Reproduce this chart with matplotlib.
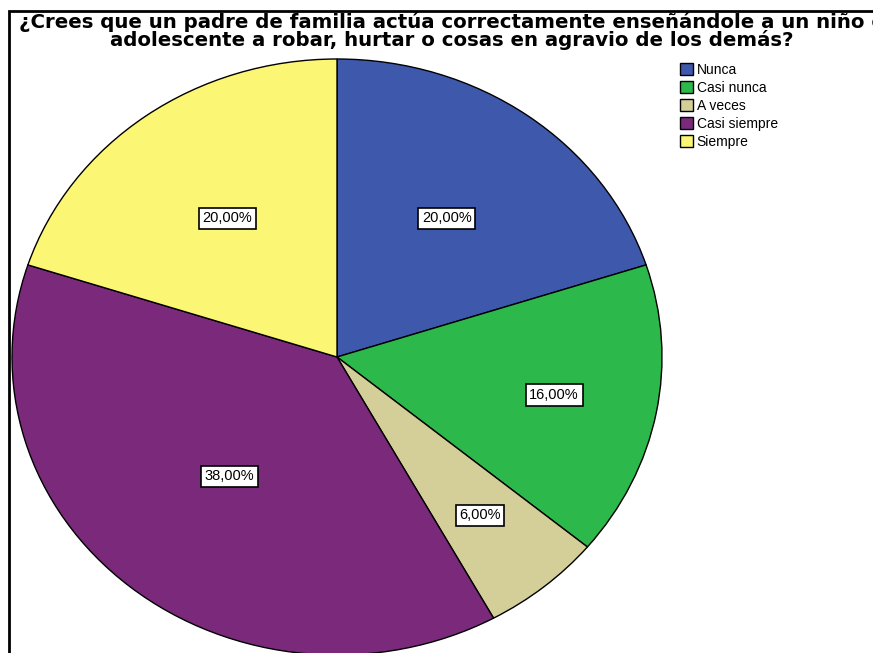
import numpy as np
import matplotlib
matplotlib.use("Agg")
import matplotlib.pyplot as plt
from matplotlib.patches import Rectangle

plt.rcParams['font.family'] = ['Liberation Sans', 'DejaVu Sans']

categories = ['Nunca', 'Casi nunca', 'A veces', 'Casi siempre', 'Siempre']
percentages = [20.0, 16.0, 6.0, 38.0, 20.0]
colors = ['#3E58AC', '#2DB84B', '#D4CE98', '#7B2A7B', '#FBF674']
title_lines = ['¿Crees que un padre de familia actúa correctamente enseñándole a un niño o',
               'adolescente a robar, hurtar o cosas en agravio de los demás?']

# how far out each percentage box sits (fraction of radius)
label_r = [0.575, 0.68, 0.69, 0.52, 0.575]

W, H = 873, 653
fig = plt.figure(figsize=(W / 100, H / 100), dpi=100)
fig.patch.set_facecolor('white')

# outer frame (runs off the right and bottom edges)
fig.patches.append(Rectangle((9 / W, -0.05), 1.2, (H - 11) / H + 0.05,
                             transform=fig.transFigure, fill=False,
                             ec='black', lw=2, clip_on=False))

# title, two lines set on their baselines (first line runs off the edge, as in the original)
for line, base in zip(title_lines, [28, 46]):
    fig.text(452 / W, 1 - base / H, line, ha='center', va='baseline',
             fontsize=14.2, fontweight='bold', family='DejaVu Sans')

# pie is slightly squashed vertically, like the original
cx, cy, a, b = 337, 357, 325, 298
ax = fig.add_axes([(cx - a) / W, (H - cy - b) / H, 2 * a / W, 2 * b / H])
wedges, _ = ax.pie(percentages, colors=colors, startangle=90, counterclock=False,
                   wedgeprops=dict(edgecolor='black', linewidth=1))
ax.set_aspect('auto')
ax.set_xlim(-1, 1)
ax.set_ylim(-1, 1)
ax.axis('off')

for w, p, r in zip(wedges, percentages, label_r):
    th = np.deg2rad((w.theta1 + w.theta2) / 2)
    ax.text(r * np.cos(th), r * np.sin(th), f'{p:.2f}%'.replace('.', ','),
            ha='center', va='center', fontsize=10.5,
            bbox=dict(boxstyle='square,pad=0.25', fc='white', ec='black', lw=1.2))

fig.legend(wedges, categories, loc='upper left', bbox_to_anchor=(680 / W, 1 - 63 / H),
           frameon=False, fontsize=10, handlelength=0.95, handleheight=0.95,
           handletextpad=0.25, labelspacing=0.28, borderpad=0, borderaxespad=0)

fig.savefig('out.png', dpi=100)
